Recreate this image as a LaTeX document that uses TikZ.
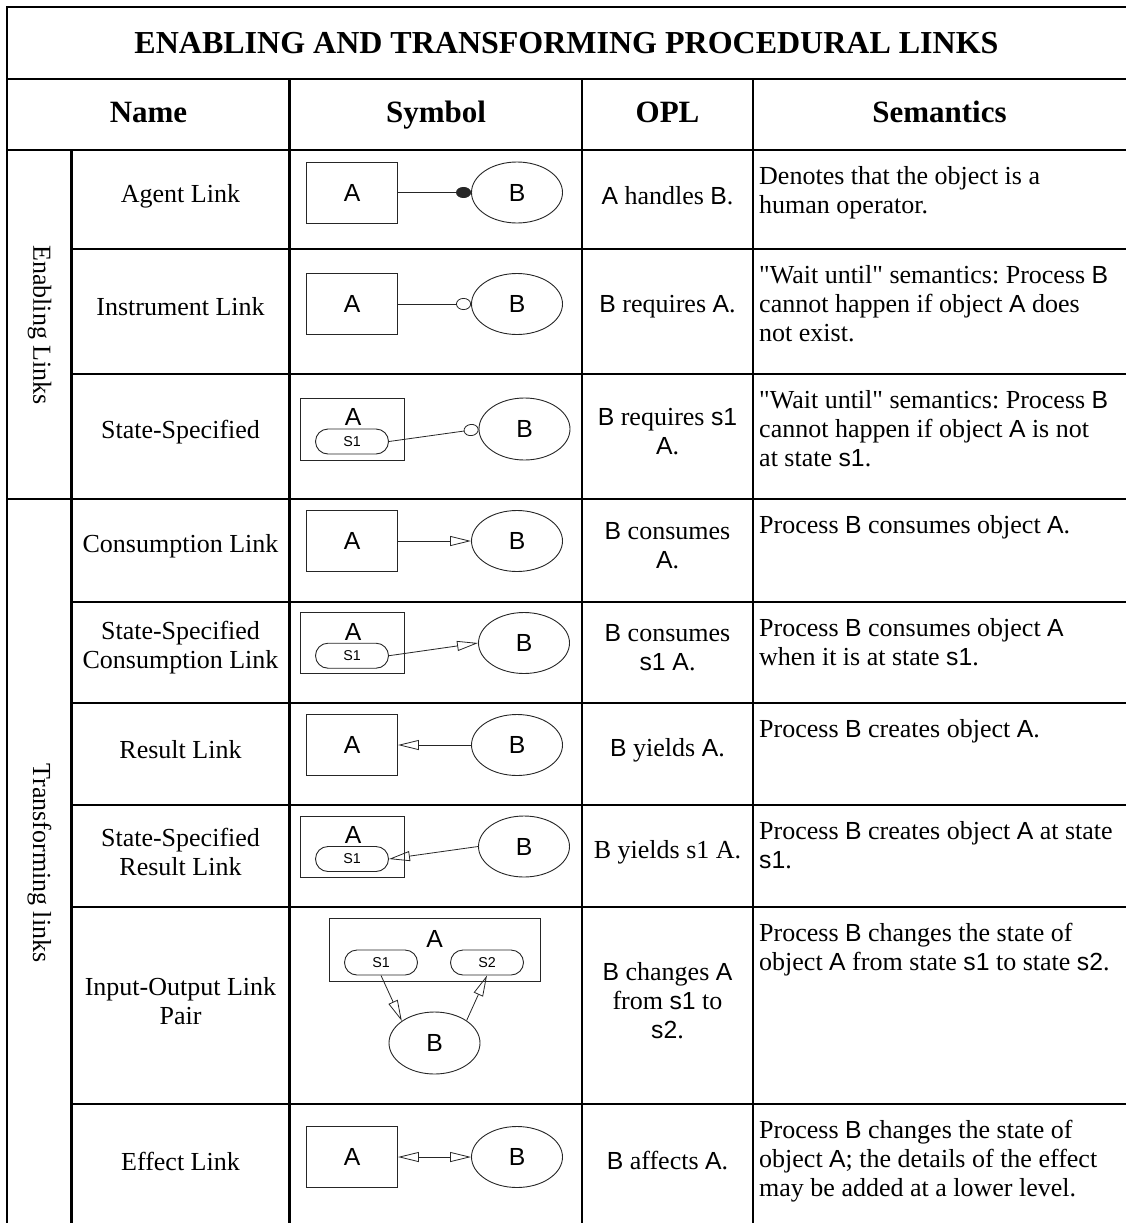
\documentclass[tikz,border=0pt]{standalone}
\usepackage{fontspec}
\setmainfont{Liberation Serif}
\setsansfont{Liberation Sans}[Scale=MatchUppercase]
\usetikzlibrary{shapes.geometric,shapes.misc,arrows.meta}
\newcommand{\ssf}[1]{{\sffamily #1}}
\frenchspacing
\begin{document}
\begin{tikzpicture}[x=1pt,y=-1pt,
  gridline/.style={line width=2.4pt, black},
  txt/.style={font=\fontsize{26}{29}\selectfont, align=center, inner sep=0pt},
  sem/.style={font=\fontsize{26}{29}\selectfont, align=left, inner sep=0pt, anchor=north west},
  hdr/.style={font=\bfseries\fontsize{31}{34}\selectfont, inner sep=0pt, anchor=base},
  grp/.style={font=\fontsize{26}{29}\selectfont, inner sep=0pt, rotate=-90},
  obj/.style={draw=black!85, line width=0.9pt, rectangle, minimum width=91pt, minimum height=61pt, inner sep=0pt, font=\sffamily\fontsize{26}{26}\selectfont},
  sobj/.style={draw=black!85, line width=0.9pt, rectangle, minimum width=104pt, minimum height=61pt, inner sep=0pt},
  lbl/.style={inner sep=0pt, font=\sffamily\fontsize{26}{26}\selectfont},
  proc/.style={draw=black!85, line width=0.9pt, ellipse, minimum width=91pt, minimum height=61pt, inner sep=0pt, font=\sffamily\fontsize{26}{26}\selectfont},
  stat/.style={draw=black!85, line width=0.9pt, rounded rectangle, minimum width=73pt, minimum height=25pt, inner sep=0pt, font=\sffamily\fontsize{15}{15}\selectfont},
  lnk/.style={line width=0.8pt, black!85},
  arr/.style={lnk, -{Triangle[open, length=21pt, width=10pt]}},
  dbl/.style={lnk, {Triangle[open, length=21pt, width=10pt]}-{Triangle[open, length=21pt, width=10pt]}},
  agt/.style={lnk, -{Circle[length=15pt, width=11pt]}},
  ins/.style={lnk, -{Circle[open, length=15pt, width=12pt]}}
]
\useasboundingbox (0,0) rectangle (1126,1223);

% ---------- grid ----------
\draw[gridline] (1126,7) -- (7,7) -- (7,1223);
\draw[gridline] (7,79) -- (1126,79);
\draw[gridline] (7,150) -- (1126,150);
\draw[gridline] (7,499) -- (1126,499);
\foreach \y in {249,374,602,703,805,907,1104} \draw[gridline] (71.5,\y) -- (1126,\y);
\draw[gridline] (71.5,150) -- (71.5,1223);
\foreach \x in {289.5,582,753} \draw[gridline] (\x,79) -- (\x,1223);

% ---------- title and header ----------
\node[hdr, font=\bfseries\fontsize{32}{35}\selectfont] (title) at (566.5,54) {ENABLING AND TRANSFORMING PROCEDURAL LINKS};
\node[hdr] (hname) at (148.5,122) {Name};
\node[hdr] (hsym) at (436,122) {Symbol};
\node[hdr] (hopl) at (667.5,122) {OPL};
\node[hdr] (hsem) at (939.5,122) {Semantics};

% ---------- group labels ----------
\node[grp] (genab) at (39.5,325) {Enabling Links};
\node[grp] (gtrans) at (39.5,863) {Transforming links};

% ---------- names ----------
\node[txt] (n1) at (180.5,196) {Agent Link};
\node[txt] (n2) at (180.5,307) {Instrument Link};
\node[txt] (n3) at (180.5,432) {State-Specified};
\node[txt] (n4) at (180.5,546) {Consumption Link};
\node[txt] (n5) at (180.5,648) {State-Specified\\Consumption Link};
\node[txt] (n6) at (180.5,750) {Result Link};
\node[txt] (n7) at (180.5,852) {State-Specified\\Result Link};
\node[txt] (n8) at (180.5,1001) {Input-Output Link\\Pair};
\node[txt] (n9) at (180.5,1161) {Effect Link};

% ---------- symbols ----------
% Agent
\node[obj] (a1) at (352,192.5) {A};
\node[proc] (b1) at (517,192.5) {B};
\draw[agt] (a1.east) -- (b1.west);
% Instrument
\node[obj] (a2) at (352,304) {A};
\node[proc] (b2) at (517,304) {B};
\draw[ins] (a2.east) -- (b2.west);
% State-specified enabling
\node[sobj, minimum height=62pt] (r3) at (352.8,429) {};
\node[lbl] (a3) at (353,417) {A};
\node[stat] (s3) at (352,441.5) {S1};
\node[proc, minimum height=62pt] (b3) at (524.5,429) {B};
\draw[ins] (s3.east) -- (b3.west);
% Consumption
\node[obj] (a4) at (352,541) {A};
\node[proc] (b4) at (517,541) {B};
\draw[arr] (a4.east) -- (b4.west);
% State-specified consumption
\node[sobj] (r5) at (352.8,643) {};
\node[lbl] (a5) at (353,632) {A};
\node[stat] (s5) at (352,655.7) {S1};
\node[proc] (b5) at (524,643) {B};
\draw[arr] (s5.east) -- (b5.west);
% Result
\node[obj] (a6) at (352,745) {A};
\node[proc] (b6) at (517,745) {B};
\draw[arr] (b6.west) -- (a6.east);
% State-specified result
\node[sobj] (r7) at (352.8,846.5) {};
\node[lbl] (a7) at (353,835) {A};
\node[stat] (s7) at (352,859) {S1};
\node[proc] (b7) at (524,846.5) {B};
\draw[arr] (b7.west) -- (s7.east);
% Input-output pair
\node[sobj, minimum width=211pt, minimum height=63pt] (r8) at (434.7,949.7) {};
\node[lbl] (a8) at (434.5,939) {A};
\node[stat] (s8a) at (381,962.5) {S1};
\node[stat] (s8b) at (487,962.5) {S2};
\node[proc, minimum height=62pt] (b8) at (434.5,1043) {B};
\draw[arr] (s8a.south) -- (b8.146);
\draw[arr] (b8.35) -- (s8b.south);
% Effect
\node[obj] (a9) at (352,1157) {A};
\node[proc] (b9) at (517,1157) {B};
\draw[dbl] (a9.east) -- (b9.west);

% ---------- OPL ----------
\node[txt] (o1) at (667.5,196) {\ssf{A} handles \ssf{B}.};
\node[txt] (o2) at (667.5,307) {\ssf{B} requires \ssf{A}.};
\node[txt] (o3) at (667.5,432) {\ssf{B} requires \ssf{s1}\\\ssf{A}.};
\node[txt] (o4) at (667.5,546) {\ssf{B} consumes\\\ssf{A}.};
\node[txt] (o5) at (667.5,648) {\ssf{B} consumes\\\ssf{s1 A}.};
\node[txt] (o6) at (667.5,750) {\ssf{B} yields \ssf{A}.};
\node[txt] (o7) at (667.5,852) {B yields s1 A.};
\node[txt] (o8) at (667.5,1001) {\ssf{B} changes \ssf{A}\\from \ssf{s1} to\\\ssf{s2}.};
\node[txt] (o9) at (667.5,1161) {\ssf{B} affects \ssf{A}.};

% ---------- semantics ----------
\node[sem] (m1) at (759,166) {Denotes that the object is a\\human operator.};
\node[sem] (m2) at (759,265) {\textquotedbl Wait until\textquotedbl{} semantics: Process \ssf{B}\\cannot happen if object \ssf{A} does\\not exist.};
\node[sem] (m3) at (759,390) {\textquotedbl Wait until\textquotedbl{} semantics: Process \ssf{B}\\cannot happen if object \ssf{A} is not\\at state \ssf{s1}.};
\node[sem] (m4) at (759,515) {Process \ssf{B} consumes object \ssf{A}.};
\node[sem] (m5) at (759,618) {Process \ssf{B} consumes object \ssf{A}\\when it is at state \ssf{s1}.};
\node[sem] (m6) at (759,719) {Process \ssf{B} creates object \ssf{A}.};
\node[sem] (m7) at (759,821) {Process \ssf{B} creates object \ssf{A} at state\\\ssf{s1}.};
\node[sem] (m8) at (759,923) {Process \ssf{B} changes the state of\\object \ssf{A} from state \ssf{s1} to state \ssf{s2}.};
\node[sem] (m9) at (759,1120) {Process \ssf{B} changes the state of\\object \ssf{A}; the details of the effect\\may be added at a lower level.};
\end{tikzpicture}
\end{document}
